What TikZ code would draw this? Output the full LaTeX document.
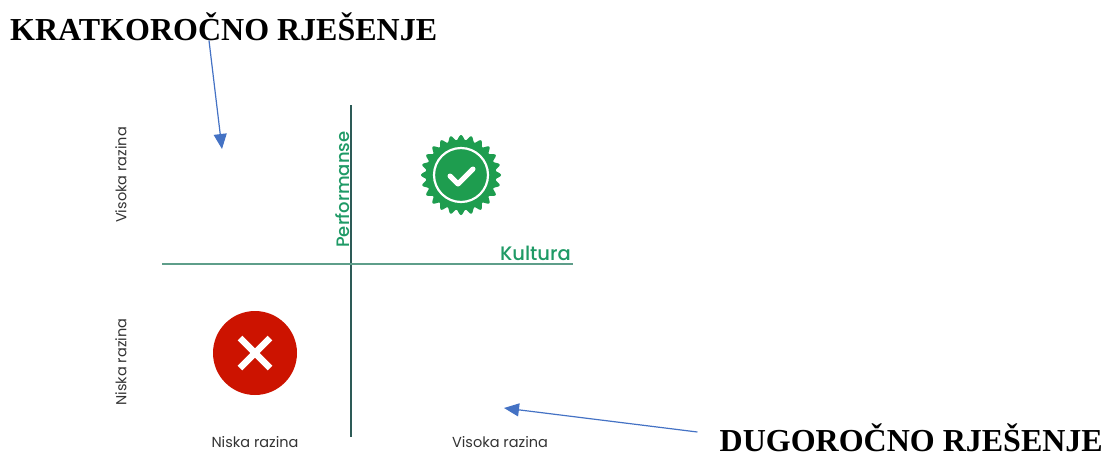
\documentclass[tikz,border=0pt]{standalone}
\usepackage{fontspec}
\usepackage{tikz}
\usetikzlibrary{arrows.meta}
\setmainfont{Liberation Serif}
\newfontfamily\axisfont{Poppins}
\newfontfamily\axismedium{Poppins Medium}

\definecolor{textgray}{HTML}{333333}
\definecolor{axisgreen}{HTML}{1F9A66}
\definecolor{badgegreen}{HTML}{1E9D4F}
\definecolor{badred}{HTML}{CC1300}
\definecolor{hline}{HTML}{5E9E8A}
\definecolor{vline}{HTML}{2D5B57}
\definecolor{arrowblue}{HTML}{4472C4}

\begin{document}
\begin{tikzpicture}[x=1pt, y=-1pt,
  title/.style={inner sep=0pt, font=\fontsize{32}{32}\selectfont\bfseries},
  level/.style={inner sep=0pt, text=textgray, font=\axisfont\fontsize{14.5}{14.5}\selectfont},
  axis/.style={inner sep=0pt, text=axisgreen, font=\axismedium\fontsize{18}{18}\selectfont},
  pointer/.style={-{Triangle[length=15pt, width=13pt]}, arrowblue, line width=1.2pt}]
  \useasboundingbox (0,0) rectangle (1107,456);

  % axes
  \draw[vline, line width=1.5pt] (351,105) -- (351,437);
  \draw[hline, line width=1.5pt] (162,264) -- (573,264);
  \node[axis, rotate=90, anchor=base west] (perf) at (349,248) {Performanse};
  \node[axis, anchor=base east, font=\axismedium\fontsize{19.5}{19.5}\selectfont] (kult) at (571,260) {Kultura};

  % levels
  \node[level, rotate=90] (visokaL) at (121,175) {Visoka razina};
  \node[level, rotate=90] (niskaL) at (121,362) {Niska razina};
  \node[level, anchor=base] (niskaB) at (255,447) {Niska razina};
  \node[level, anchor=base] (visokaB) at (500,447) {Visoka razina};

  % badge
  \coordinate (good) at (461,175);
  \fill[badgegreen, shift={(good)}] plot[domain=0:360, samples=361, smooth]
    ({(37.5+2.5*cos(24*\x))*cos(\x)}, {(37.5+2.5*cos(24*\x))*sin(\x)}) -- cycle;
  \draw[white, line width=2.2pt] (good) circle[radius=27];
  \draw[white, line width=5pt, line cap=round, line join=round]
    (good) ++(-11,1) -- ++(8,8) -- ++(15,-15);

  % cross
  \node[circle, fill=badred, minimum size=84pt, inner sep=0pt] (bad) at (255,353) {};
  \draw[white, line width=6.5pt] (bad.center) ++(-15,-15) -- ++(30,30);
  \draw[white, line width=6.5pt] (bad.center) ++(15,-15) -- ++(-30,30);

  % titles
  \node[title, anchor=base west] (kratko) at (10,40) {KRATKOROČNO RJEŠENJE};
  \node[title, anchor=base east] (dugo) at (1103,451) {DUGOROČNO RJEŠENJE};
  \coordinate (kratkoTip) at (222,149);
  \coordinate (dugoTip) at (504,408);
  \draw[pointer] (kratko.south -| 209,0) -- (kratkoTip);
  \draw[pointer] (dugo.west |- 0,432) ++(-22,0) -- (dugoTip);
\end{tikzpicture}
\end{document}
